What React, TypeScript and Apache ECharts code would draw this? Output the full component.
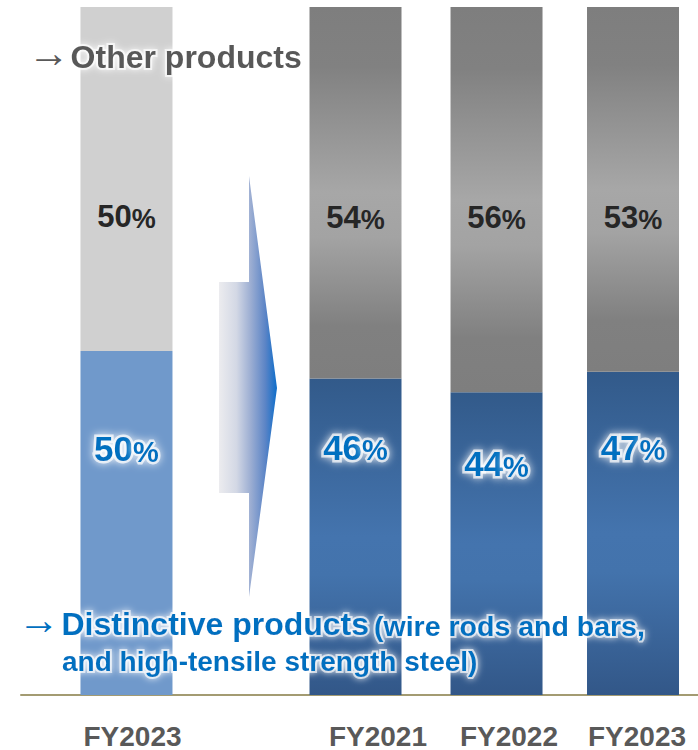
import React, { useEffect, useRef } from "react";
import * as echarts from "echarts";

// ---- data ----
const categories = ["FY2023", "FY2021", "FY2022", "FY2023"];
const distinctiveShare = [50, 46, 44, 47];
const otherShare = [50, 54, 56, 53];
// horizontal slots on a 0..100 axis (bars and their year labels)
const barSlots = [15.58, 49.41, 70.24, 90.4];
const labelSlots = [16.47, 52.73, 72.08, 90.99];

// ---- styling ----
const FONT = "'Liberation Sans', Arial, Helvetica, sans-serif";
const greyLabelDy = [208, 209, 209, 209];
const blueLabelDy = [96, 67, 70, 74];

const greyGrad = {
  type: "linear", x: 0, y: 0, x2: 0, y2: 1,
  colorStops: [
    { offset: 0, color: "#7e7e7e" },
    { offset: 0.16, color: "#818181" },
    { offset: 0.5, color: "#a7a7a7" },
    { offset: 0.62, color: "#a3a3a3" },
    { offset: 0.86, color: "#808080" },
    { offset: 1, color: "#7e7e7e" },
  ],
};
const blueGrad = {
  type: "linear", x: 0, y: 0, x2: 0, y2: 1,
  colorStops: [
    { offset: 0, color: "#325a8a" },
    { offset: 0.5, color: "#4474ae" },
    { offset: 0.62, color: "#4373ac" },
    { offset: 1, color: "#325788" },
  ],
};

// soft white halo for series labels
const labelGlow = {
  textBorderColor: "rgba(255,255,255,0.7)",
  textBorderWidth: 5,
  textShadowColor: "rgba(255,255,255,1)",
  textShadowBlur: 8,
};
// soft white halo for free text (zrender text style)
const textGlow = {
  stroke: "rgba(255,255,255,0.65)",
  lineWidth: 4,
  textShadowColor: "rgba(255,255,255,1)",
  textShadowBlur: 7,
};

export default function App() {
  const ref = useRef<HTMLDivElement>(null);

  useEffect(() => {
    if (!ref.current) return;
    const chart = echarts.init(ref.current, undefined, { renderer: "svg" });

    // value first, slot second, so the stack is computed on the share
    const blueData = distinctiveShare.map((v, i) => ({
      value: [v, barSlots[i]],
      itemStyle: { color: i === 0 ? "#7099cb" : blueGrad },
      label: {
        show: true,
        position: ["50%", blueLabelDy[i]],
        align: "center",
        verticalAlign: "middle",
        formatter: `{n|${v}}{p|%}`,
        rich: {
          n: { fontSize: 35, fontWeight: "bold", fontFamily: FONT, color: "#0070c0", verticalAlign: "bottom", lineHeight: 38, ...labelGlow },
          p: { fontSize: 29, fontWeight: "bold", fontFamily: FONT, color: "#0070c0", verticalAlign: "bottom", lineHeight: 38, ...labelGlow },
        },
      },
    }));

    const greyData = otherShare.map((v, i) => ({
      value: [v, barSlots[i]],
      itemStyle: { color: i === 0 ? "#d0d0d0" : greyGrad },
      label: {
        show: true,
        position: ["50%", greyLabelDy[i]],
        align: "center",
        verticalAlign: "middle",
        formatter: `{n|${v}}{p|%}`,
        rich: {
          n: { fontSize: 31, fontWeight: "bold", fontFamily: FONT, color: "#262626", verticalAlign: "bottom", lineHeight: 34 },
          p: { fontSize: 27, fontWeight: "bold", fontFamily: FONT, color: "#262626", verticalAlign: "bottom", lineHeight: 34 },
        },
      },
    }));

    const option = {
      animation: false,
      grid: { left: 21, right: 0, top: 7, bottom: 53 },
      xAxis: {
        type: "value",
        min: 0,
        max: 100,
        splitLine: { show: false },
        axisTick: { show: false },
        axisLine: { show: true, onZero: false, lineStyle: { color: "#a39b72", width: 2 } },
        axisLabel: {
          customValues: labelSlots,
          margin: 27,
          fontSize: 28,
          fontWeight: "bold",
          fontFamily: FONT,
          color: "#595959",
          formatter: (val: number) => {
            const idx = labelSlots.findIndex((s) => Math.abs(s - val) < 1e-6);
            return idx >= 0 ? categories[idx] : "";
          },
        },
      },
      yAxis: { type: "value", min: 0, max: 100, show: false },
      series: [
        { type: "bar", name: "Distinctive products", stack: "share", barWidth: 92, encode: { x: 1, y: 0 }, data: blueData, z: 2 },
        { type: "bar", name: "Other products", stack: "share", barWidth: 92, encode: { x: 1, y: 0 }, data: greyData, z: 2 },
      ],
      graphic: [
        {
          type: "polygon",
          z: 10,
          shape: {
            points: [
              [219, 282], [249, 282], [249, 176], [277, 388], [249, 597], [249, 493], [219, 493],
            ],
          },
          style: {
            fill: {
              type: "linear", x: 0, y: 0, x2: 1, y2: 0,
              colorStops: [
                { offset: 0, color: "#ececef" },
                { offset: 0.3, color: "#d3d8e5" },
                { offset: 0.55, color: "#9badd2" },
                { offset: 0.8, color: "#5b84c6" },
                { offset: 1, color: "#0d6dca" },
              ],
            },
          },
        },
        {
          type: "text",
          z: 20,
          x: 27.5,
          y: 52,
          style: {
            text: "{a|→}{s| }{b|Other products}",
            verticalAlign: "middle",
            rich: {
              a: { fontSize: 42, fontFamily: FONT, fill: "#595959", verticalAlign: "bottom", lineHeight: 42 },
              s: { fontSize: 4, fontFamily: FONT, verticalAlign: "bottom", lineHeight: 42 },
              b: { fontSize: 32, fontWeight: "bold", fontFamily: FONT, fill: "#595959", verticalAlign: "bottom", lineHeight: 42, ...textGlow },
            },
          },
        },
        {
          type: "text",
          z: 20,
          x: 17.5,
          y: 619,
          style: {
            text: "{a|→}{s| }{b|Distinctive products}{s2| }{c|(wire rods and bars,}",
            verticalAlign: "middle",
            rich: {
              a: { fontSize: 42, fontFamily: FONT, fill: "#0070c0", verticalAlign: "bottom", lineHeight: 42 },
              s: { fontSize: 7, fontFamily: FONT, verticalAlign: "bottom", lineHeight: 42 },
              s2: { fontSize: 18, fontFamily: FONT, verticalAlign: "bottom", lineHeight: 42 },
              b: { fontSize: 32, fontWeight: "bold", fontFamily: FONT, fill: "#0070c0", verticalAlign: "bottom", lineHeight: 42, ...textGlow },
              c: { fontSize: 28.5, fontWeight: "bold", fontFamily: FONT, fill: "#0070c0", verticalAlign: "bottom", lineHeight: 42, ...textGlow },
            },
          },
        },
        {
          type: "text",
          z: 20,
          x: 62,
          y: 661,
          style: {
            text: "and high-tensile strength steel)",
            verticalAlign: "middle",
            fontSize: 28,
            fontWeight: "bold",
            fontFamily: FONT,
            fill: "#0070c0",
            ...textGlow,
          },
        },
      ],
    };

    chart.setOption(option as any);
    return () => chart.dispose();
  }, []);

  return (
    <div
      ref={ref}
      style={{ position: "absolute", left: 0, top: 0, width: 698, height: 750, background: "#fff" }}
    />
  );
}
